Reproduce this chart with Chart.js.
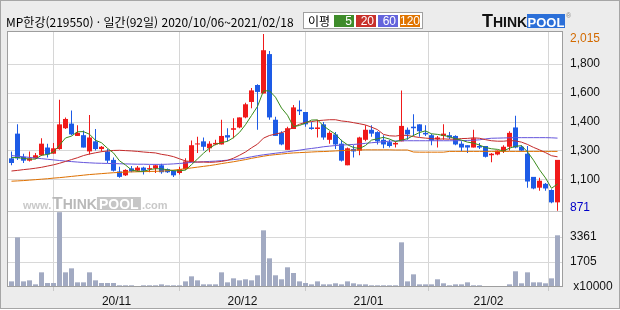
<!DOCTYPE html>
<html lang="ko">
<head>
<meta charset="utf-8">
<script src="https://cdn.jsdelivr.net/npm/chart.js@4.4.1/dist/chart.umd.min.js"></script>
<style>
html,body{margin:0;padding:0;background:#fff;width:620px;height:310px;overflow:hidden}
#frame{position:absolute;left:0;top:0;width:618px;height:307px;border:1px solid #a6a6a6;background:#ececec}
#c{position:absolute;left:0;top:0}
#title{position:absolute;left:6px;top:14px;font:12px "Noto Sans CJK KR",sans-serif;line-height:16px;color:#000;white-space:nowrap}
#legend{position:absolute;left:303px;top:12px;width:118px;height:15px;border:1px solid #a0a0a0;background:#fff}
#legend .t{position:absolute;left:4px;top:0;font:12px "Noto Sans CJK KR",sans-serif;line-height:15px;color:#000}
#legend .b{position:absolute;top:2px;width:20px;height:12px;color:#fff;font:12px "Liberation Sans",sans-serif;line-height:12px;text-align:right;box-sizing:border-box;padding-right:2px}
#logoT{position:absolute;left:482px;top:12px;font:bold 18px "Liberation Sans",sans-serif;line-height:18px;color:#111;white-space:nowrap}
#logoT span{font-size:14px}
#logoP{position:absolute;left:527px;top:14px;width:38px;height:14px;background:#2b6fd8;color:#fff;font:bold 13px "Liberation Sans",sans-serif;line-height:18px;text-align:center;overflow:visible;white-space:nowrap}
#reg{position:absolute;left:566px;top:12px;font:7px "Liberation Sans",sans-serif;color:#888}
</style>
</head>
<body>
<div id="frame"></div>
<canvas id="c" width="620" height="310"></canvas>
<div id="title">MP한강(219550) · 일간(92일) 2020/10/06~2021/02/18</div>
<div id="legend"><span class="t">이평</span>
<div class="b" style="left:30px;background:#3e8c2a">5</div>
<div class="b" style="left:52px;background:#c8302a">20</div>
<div class="b" style="left:74px;background:#6464dc">60</div>
<div class="b" style="left:96px;background:#e07400">120</div>
</div>
<div id="logoT">T<span>HINK</span></div>
<div id="logoP">POOL</div>
<div id="reg">®</div>
<script>
// ---- data (MP한강 219550, daily, 2020/10/06 ~ 2021/02/18) ----
const openP  = [1210,1370,1220,1195,1210,1230,1280,1240,1270,1405,1435,1355,1360,1255,1320,1270,1255,1200,1125,1100,1145,1130,1150,1140,1145,1165,1140,1130,1115,1140,1190,1300,1320,1275,1300,1300,1360,1395,1410,1475,1575,1685,1630,1885,1460,1375,1265,1400,1525,1510,1410,1400,1430,1330,1365,1305,1165,1270,1260,1330,1395,1380,1330,1315,1300,1320,1395,1415,1430,1375,1360,1335,1355,1360,1355,1305,1295,1280,1290,1290,1230,1235,1255,1285,1410,1285,1240,1090,1020,1045,1005,925];
const highP  = [1255,1430,1240,1255,1245,1340,1305,1310,1590,1475,1520,1425,1390,1490,1400,1290,1270,1215,1155,1140,1160,1160,1155,1165,1170,1175,1145,1135,1155,1210,1325,1350,1345,1320,1330,1460,1405,1470,1475,1570,1665,1690,2015,1905,1480,1385,1415,1555,1585,1510,1445,1460,1445,1385,1380,1330,1280,1295,1350,1425,1425,1385,1360,1330,1320,1650,1410,1495,1430,1425,1370,1355,1430,1380,1360,1320,1295,1395,1310,1290,1245,1260,1295,1385,1485,1295,1290,1090,1085,1050,1010,1200];
const lowP   = [1165,1200,1180,1190,1205,1225,1215,1240,1265,1400,1360,1355,1280,1235,1260,1255,1180,1125,1085,1095,1120,1125,1105,1120,1115,1110,1115,1090,1105,1135,1185,1245,1260,1250,1295,1300,1320,1340,1405,1470,1535,1395,1630,1460,1355,1295,1265,1400,1490,1415,1395,1345,1330,1305,1270,1190,1165,1215,1230,1320,1350,1300,1275,1280,1280,1320,1330,1355,1350,1355,1295,1280,1330,1335,1295,1255,1245,1280,1270,1215,1185,1230,1245,1260,1275,1255,1020,1010,1000,1000,920,871];
const closeP = [1180,1210,1195,1210,1230,1305,1235,1275,1430,1465,1365,1375,1280,1345,1270,1285,1195,1130,1090,1135,1125,1150,1130,1145,1165,1120,1120,1100,1140,1190,1295,1305,1285,1305,1310,1355,1345,1405,1475,1560,1650,1640,1910,1475,1355,1300,1405,1540,1515,1430,1400,1410,1345,1375,1300,1195,1275,1255,1345,1395,1370,1320,1300,1290,1310,1420,1365,1405,1385,1365,1325,1345,1370,1345,1300,1280,1280,1340,1280,1220,1240,1260,1285,1375,1280,1260,1060,1015,1065,1015,925,1200];
// volume in units of 10,000 shares
const volume = [380,3350,380,450,180,990,270,270,5050,990,1260,315,315,990,450,270,270,270,115,115,115,60,115,115,115,180,115,115,115,380,720,450,180,180,180,990,315,585,450,520,450,790,3825,1935,790,520,1330,945,380,270,180,380,180,180,250,180,380,250,180,180,115,115,115,115,115,3015,380,855,180,180,180,520,250,115,180,180,315,115,115,45,45,45,45,180,1060,250,990,315,315,250,585,3490];
// moving averages (이평) as drawn
const ma5   = [1215,1215,1210,1205,1205,1230,1235,1251,1295,1342,1354,1382,1383,1366,1327,1311,1275,1245,1194,1167,1135,1126,1126,1137,1143,1142,1136,1130,1129,1134,1169,1206,1243,1276,1300,1312,1320,1344,1378,1428,1487,1546,1647,1647,1606,1536,1489,1415,1423,1438,1458,1459,1420,1392,1366,1325,1298,1280,1274,1293,1328,1337,1346,1335,1318,1328,1337,1358,1377,1388,1369,1365,1358,1350,1337,1328,1315,1309,1296,1280,1272,1268,1257,1276,1288,1292,1252,1198,1136,1083,1016,1044];
const ma20  = [1128,1132,1137,1141,1146,1152,1160,1168,1178,1190,1202,1214,1228,1238,1246,1253,1258,1261,1262,1260,1258,1255,1251,1248,1245,1236,1230,1221,1207,1193,1189,1186,1186,1184,1186,1190,1197,1211,1230,1251,1278,1302,1341,1358,1367,1376,1390,1412,1431,1443,1448,1454,1457,1460,1460,1452,1448,1441,1434,1426,1412,1396,1365,1356,1354,1360,1358,1351,1345,1341,1338,1334,1336,1334,1334,1338,1339,1343,1340,1331,1324,1321,1321,1325,1323,1315,1300,1281,1265,1247,1227,1220];
const ma60  = [1228,1224,1220,1216,1212,1208,1204,1200,1196,1192,1189,1186,1183,1181,1179,1178,1177,1176,1175,1174,1173,1172,1172,1171,1171,1171,1172,1174,1177,1180,1184,1186,1188,1190,1192,1195,1198,1202,1206,1213,1220,1227,1233,1238,1243,1248,1253,1258,1263,1269,1274,1279,1285,1289,1293,1296,1298,1300,1303,1307,1311,1314,1318,1321,1323,1324,1324,1324,1324,1324,1324,1324,1324,1324,1324,1325,1326,1327,1330,1336,1340,1341,1342,1343,1344,1344,1344,1344,1344,1344,1343,1341];
const ma120 = [1062,1064,1066,1069,1072,1075,1078,1082,1085,1089,1093,1097,1101,1105,1108,1111,1114,1117,1119,1121,1122,1123,1124,1125,1126,1127,1130,1134,1138,1143,1148,1153,1158,1163,1169,1176,1182,1188,1195,1202,1210,1217,1224,1230,1234,1238,1242,1245,1247,1249,1251,1253,1254,1256,1258,1260,1262,1263,1264,1265,1265,1265,1265,1265,1264,1264,1264,1251,1250,1250,1250,1250,1250,1255,1255,1255,1255,1255,1255,1255,1255,1255,1255,1255,1255,1255,1255,1255,1255,1255,1255,1255];
// month boundaries: index of first trading day of each month, and the tick labels
const monthStartIndex = [18,39,60,80];
const xTickLabels = ['20/11','20/12','21/01','21/02'];
const priceTickLabels = ['2,015','1,800','1,600','1,400','1,300','1,100','871'];
const volumeTickLabels = ['3361','1705',' x10000'];

// ---- layout / style ----
const N = closeP.length;
const idx = Array.from({length: N}, (_, i) => i);
const RED = '#f01a1a', BLUE = '#1d5be6';
const candleColor = ctx => (closeP[ctx.dataIndex] >= openP[ctx.dataIndex] ? RED : BLUE);
const priceTickFrac = [0.035, 0.1778, 0.3389, 0.5, 0.6611, 0.8222, 0.974];
const FONT = {family: '"Liberation Sans", Arial, sans-serif', size: 12};

const deco = {
  id: 'deco',
  beforeDraw(chart) {
    const {ctx, chartArea: a} = chart;
    ctx.save();
    ctx.fillStyle = '#ffffff';
    ctx.fillRect(a.left, a.top, a.width, a.height);
    ctx.restore();
  },
  beforeDatasetsDraw(chart) {
    const {ctx, chartArea: a, scales} = chart;
    const base = scales.y.bottom - 3;
    let x = a.left + 15;
    ctx.save();
    ctx.textBaseline = 'alphabetic';
    ctx.fillStyle = '#c9c9c9';
    ctx.font = 'bold 11px "Liberation Sans", sans-serif';
    ctx.fillText('www.', x, base);
    x += ctx.measureText('www.').width + 1;
    ctx.fillStyle = '#b9b9b9';
    ctx.font = 'bold 17px "Liberation Sans", sans-serif';
    ctx.fillText('T', x, base);
    x += ctx.measureText('T').width;
    ctx.font = 'bold 14px "Liberation Sans", sans-serif';
    ctx.fillText('HINK', x, base);
    x += ctx.measureText('HINK').width;
    ctx.fillStyle = '#c6c6c6';
    ctx.fillRect(x, base - 12, 44, 13);
    ctx.fillStyle = '#ffffff';
    ctx.font = 'bold 14px "Liberation Sans", sans-serif';
    ctx.fillText('POOL', x + 2, base);
    x += 44;
    ctx.fillStyle = '#c9c9c9';
    ctx.font = 'bold 11px "Liberation Sans", sans-serif';
    ctx.fillText('.com', x + 1, base);
    ctx.restore();
  },
  afterDraw(chart) {
    const {ctx, chartArea: a, scales} = chart;
    ctx.save();
    ctx.lineWidth = 1;
    ctx.strokeStyle = '#c6c6c6';
    const ys = Math.round(scales.y.bottom) - 0.5;
    ctx.beginPath(); ctx.moveTo(a.left, ys); ctx.lineTo(a.right, ys); ctx.stroke();
    ctx.strokeStyle = '#9e9e9e';
    ctx.strokeRect(a.left - 0.5, a.top - 0.5, a.width + 1, a.height);
    ctx.restore();
  }
};

const maLine = (data, color, order) => ({
  type: 'line', data: idx.map(i => ({x: i, y: data[i]})), yAxisID: 'y',
  borderColor: color, borderWidth: 1, pointRadius: 0, tension: 0, order
});

new Chart(document.getElementById('c'), {
  data: {
    datasets: [
      {type: 'bar', data: idx.map(i => ({x: i, y: volume[i]})), yAxisID: 'yv',
       backgroundColor: '#a2aac2', barThickness: 5, grouped: false, inflateAmount: 0, order: 10},
      {type: 'bar', data: idx.map(i => ({x: i, y: [lowP[i], highP[i]]})), yAxisID: 'y',
       backgroundColor: candleColor, barThickness: 1, grouped: false, inflateAmount: 0, minBarLength: 1, order: 9},
      {type: 'bar', data: idx.map(i => ({x: i, y: [openP[i], closeP[i]]})), yAxisID: 'y',
       backgroundColor: candleColor, barThickness: 5, grouped: false, inflateAmount: 0, minBarLength: 1, order: 8},
      maLine(ma120, '#de7000', 4),
      maLine(ma60, '#6656dc', 3),
      maLine(ma20, '#c42a2a', 2),
      maLine(ma5, '#3a8c1c', 1)
    ]
  },
  options: {
    responsive: false, animation: false, devicePixelRatio: 1, events: [],
    layout: {padding: {left: 8, top: 32, right: 0, bottom: 0}},
    plugins: {legend: {display: false}, tooltip: {enabled: false}, title: {display: false}},
    scales: {
      x: {
        type: 'linear', position: 'bottom', min: -0.5833, max: 91.75, bounds: 'data', offset: false,
        afterBuildTicks: s => { s.ticks = monthStartIndex.map(v => ({value: v - 0.5})); },
        afterFit: s => { s.height = 23; },
        ticks: {autoSkip: false, maxRotation: 0, padding: 3, color: '#111', font: FONT,
                callback: (v, i) => xTickLabels[i]},
        grid: {color: '#d6d6d6', tickColor: '#c8c8c8', tickLength: 4, drawTicks: true},
        border: {display: false}
      },
      y: {
        type: 'linear', position: 'right', stack: 'main', stackWeight: 180,
        min: 862.6, max: 2028, bounds: 'data',
        afterBuildTicks: s => { s.ticks = priceTickFrac.map(f => ({value: s.max - f * (s.max - s.min)})); },
        afterFit: s => { s.width = 58; },
        ticks: {autoSkip: false, padding: 8, font: FONT,
                color: c => c.index === 0 ? '#d26a00' : (c.index === priceTickLabels.length - 1 ? '#0000c8' : '#111'),
                callback: (v, i) => priceTickLabels[i]},
        grid: {drawTicks: false,
               color: c => (c.index === 0 || c.index === priceTickLabels.length - 1) ? 'rgba(0,0,0,0)' : '#d8d8d8'},
        border: {display: false}
      },
      yv: {
        type: 'linear', position: 'right', stack: 'main', stackWeight: 75,
        min: 0, max: 5062, bounds: 'data',
        afterBuildTicks: s => { s.ticks = [{value: s.max * 2 / 3}, {value: s.max / 3}, {value: 0}]; },
        afterFit: s => { s.width = 58; },
        ticks: {autoSkip: false, padding: 8, font: FONT, color: '#111',
                callback: (v, i) => volumeTickLabels[i]},
        grid: {drawTicks: false, color: c => c.index === 2 ? 'rgba(0,0,0,0)' : '#d8d8d8'},
        border: {display: false}
      }
    }
  },
  plugins: [deco]
});
</script>
</body>
</html>
